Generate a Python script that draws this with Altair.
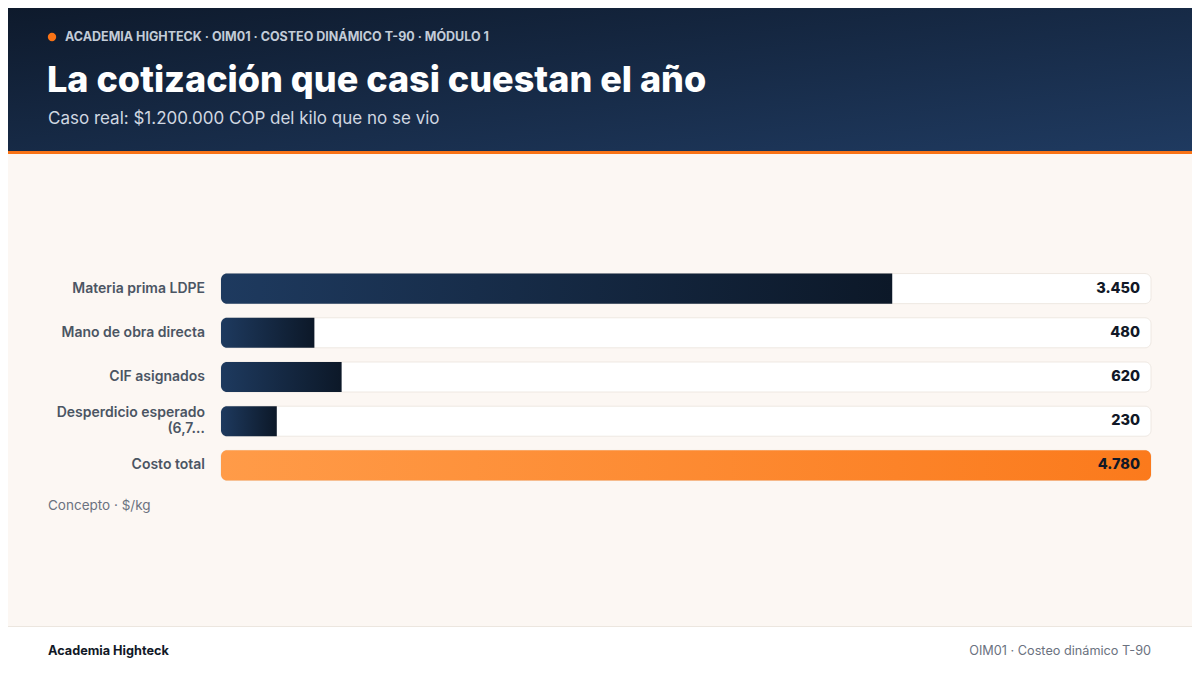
import altair as alt
import pandas as pd

# --- datos ---
conceptos = ["Materia prima LDPE", "Mano de obra directa", "CIF asignados",
             "Desperdicio esperado (6,7%)", "Costo total"]
etiquetas = ["Materia prima LDPE", "Mano de obra directa", "CIF asignados",
             "Desperdicio esperado\n(6,7…", "Costo total"]
valores = [3450, 480, 620, 230, 4780]
tipo = ["parte", "parte", "parte", "parte", "total"]
total = 4780
ancho_min = 0.06  # fraccion minima de la pista que ocupa una barra

kicker = "ACADEMIA HIGHTECK · OIM01 · COSTEO DINÁMICO T-90 · MÓDULO 1"
titulo = "La cotización que casi cuestan el año"
subtitulo = "Caso real: $1.200.000 COP del kilo que no se vio"
nota = "Concepto · $/kg"
pie_izq = "Academia Highteck"
pie_der = "OIM01 · Costeo dinámico T-90"

W, H = 1184, 659
FONT = "Inter"

df = pd.DataFrame({
    "concepto": conceptos,
    "etiqueta": etiquetas,
    "valor": valores,
    "tipo": tipo,
})
df["cero"] = 0
df["total"] = total
df["texto"] = [f"{v:,}".replace(",", ".") for v in valores]
df["lineas"] = [e.count("\n") + 1 for e in etiquetas]

one = pd.DataFrame({"k": [0]})

xs = alt.Scale(domain=[0, total], range=[213, 1143])
ys = alt.Scale(domain=conceptos, range=[258.5, 479.5], paddingInner=0.32, paddingOuter=0.16)

base = alt.Chart(df).transform_calculate(
    fin=f"max(datum.valor, {ancho_min} * datum.total)"
)

# --- decoracion de pagina ---
header = alt.Chart(one).mark_rect(
    color=alt.Gradient(gradient="linear", x1=0, y1=0, x2=1, y2=1,
                       stops=[alt.GradientStop(color="#0e1a2c", offset=0),
                              alt.GradientStop(color="#1f3a60", offset=1)])
).encode(x=alt.value(0), x2=alt.value(W), y=alt.value(0), y2=alt.value(143))

stripe = alt.Chart(one).mark_rect(color="#f97316").encode(
    x=alt.value(0), x2=alt.value(W), y=alt.value(143), y2=alt.value(146))

cream = alt.Chart(one).mark_rect(color="#fcf7f3").encode(
    x=alt.value(0), x2=alt.value(W), y=alt.value(146), y2=alt.value(618))

borde = alt.Chart(one).mark_rect(color="#ece6df").encode(
    x=alt.value(0), x2=alt.value(W), y=alt.value(618), y2=alt.value(619))

dot = alt.Chart(one).mark_circle(color="#f97316", opacity=1, size=70).encode(
    x=alt.value(44), y=alt.value(29))

def txt(s, x, y, size, color, weight="normal", align="left", baseline="middle"):
    return alt.Chart(one).mark_text(
        text=s, font=FONT, fontSize=size, fontWeight=weight, color=color,
        align=align, baseline=baseline
    ).encode(x=alt.value(x), y=alt.value(y))

t_kicker = txt(kicker, 57, 29, 12.5, "#c3ccd8", weight=700)
t_titulo = txt(titulo, 39, 84, 36, "#ffffff", weight=800, baseline="alphabetic")
t_sub = txt(subtitulo, 40, 111, 17, "#d0d7e1")
t_nota = txt(nota, 40, 498, 13.5, "#6b7280")
t_pie_izq = txt(pie_izq, 40, 643, 12.7, "#111827", weight=700)
t_pie_der = txt(pie_der, 1143, 643, 12.7, "#6b7280", align="right")

# --- barras ---
X0 = alt.X("cero:Q", scale=xs, axis=None)
Y = alt.Y("concepto:N", scale=ys, axis=None)

track = base.mark_bar(color="white", stroke="#eee8e2", strokeWidth=1, cornerRadius=6).encode(
    x=X0, x2="total:Q", y=Y,
)

partes = base.transform_filter(alt.datum.tipo == "parte").mark_bar(
    cornerRadiusTopLeft=6, cornerRadiusBottomLeft=6,
    color=alt.Gradient(gradient="linear", x1=0, y1=0, x2=1, y2=0,
                       stops=[alt.GradientStop(color="#1e3a5f", offset=0),
                              alt.GradientStop(color="#0c1828", offset=1)])
).encode(x=X0, x2="fin:Q", y=Y)

tot = base.transform_filter(alt.datum.tipo == "total").mark_bar(
    cornerRadius=6,
    color=alt.Gradient(gradient="linear", x1=0, y1=0, x2=1, y2=0,
                       stops=[alt.GradientStop(color="#ff9b48", offset=0),
                              alt.GradientStop(color="#fb7a1c", offset=1)])
).encode(x=X0, x2="fin:Q", y=Y)

valores_txt = base.mark_text(
    font=FONT, fontSize=14.5, fontWeight=800, color="#111827", align="right", dx=-11
).encode(
    x=alt.X("total:Q", scale=xs, axis=None), y=Y, text="texto:N",
)

label_kw = dict(font=FONT, fontSize=14, fontWeight=600, color="#4b5563",
                align="right", dx=-16, lineBreak="\n", lineHeight=16)

labels1 = base.transform_filter(alt.datum.lineas == 1).mark_text(**label_kw).encode(
    x=X0, y=Y, text="etiqueta:N")

labels2 = base.transform_filter(alt.datum.lineas == 2).mark_text(dy=-8, **label_kw).encode(
    x=X0, y=Y, text="etiqueta:N")

chart = alt.layer(
    header, stripe, cream, borde, dot,
    t_kicker, t_titulo, t_sub, t_nota, t_pie_izq, t_pie_der,
    track, partes, tot, valores_txt, labels1, labels2
).properties(
    width=W, height=H, padding=0, autosize="none", background="white"
).configure_view(stroke=None)

chart.save("out.html", embed_options={"renderer": "svg", "actions": False})
